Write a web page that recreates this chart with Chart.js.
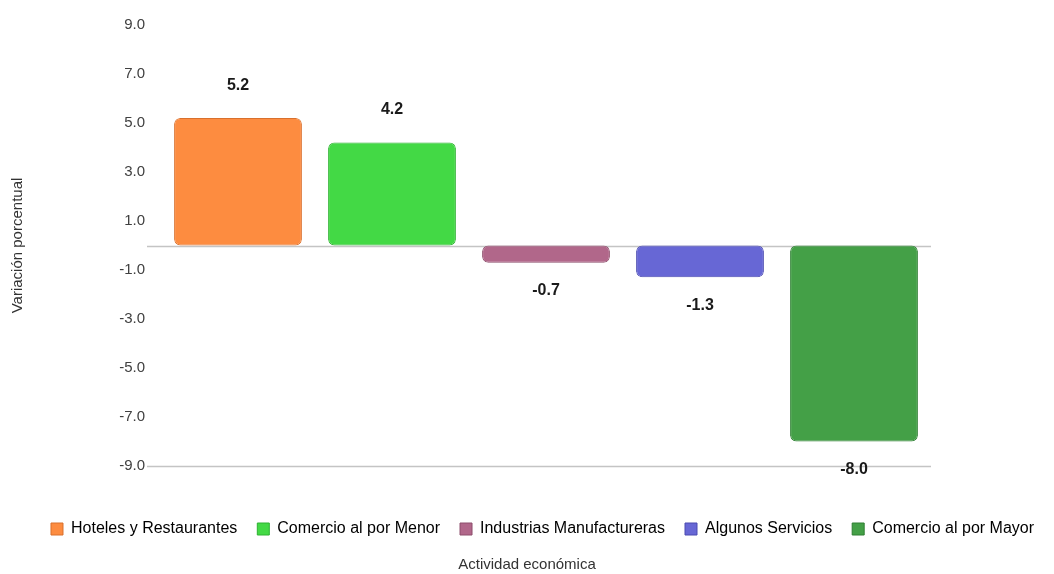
<!DOCTYPE html>
<html>
<head>
<meta charset="utf-8">
<script src="https://cdn.jsdelivr.net/npm/chart.js@4.4.0/dist/chart.umd.min.js"></script>
<style>
html,body{margin:0;padding:0;background:#fff;}
#wrap{width:1054px;height:574px;position:relative;}
</style>
</head>
<body>
<div id="wrap"><canvas id="chart"></canvas></div>
<script>
/* data */
var categories = ['Hoteles y Restaurantes','Comercio al por Menor','Industrias Manufactureras','Algunos Servicios','Comercio al por Mayor'];
var values = [5.2, 4.2, -0.7, -1.3, -8.0];
var barColors = ['#FD8C40','#43D945','#B1678A','#6767D5','#44A047'];
var edgeColors = ['#D9702C','#2FB232','#8E4E6C','#4B4BB0','#2F7F33'];
var yMin = -9, yMax = 9, yStep = 2;

var FONT = '"Liberation Sans", Arial, sans-serif';

/* zero line + bottom line */
var baseLines = {
  id:'baseLines',
  beforeDatasetsDraw:function(chart){
    var ctx = chart.ctx, a = chart.chartArea, y = chart.scales.y;
    ctx.save();
    ctx.strokeStyle = '#C4C4C4';
    ctx.lineWidth = 1.5;
    [0, yMin].forEach(function(v){
      var py = Math.round(y.getPixelForValue(v)) + 0.5;
      ctx.beginPath();
      ctx.moveTo(a.left - 14, py);
      ctx.lineTo(a.right, py);
      ctx.stroke();
    });
    ctx.restore();
  }
};

/* value labels */
var valueLabels = {
  id:'valueLabels',
  afterDatasetsDraw:function(chart){
    var ctx = chart.ctx;
    var meta = chart.getDatasetMeta(0);
    ctx.save();
    ctx.font = 'bold 16px ' + FONT;
    ctx.fillStyle = '#1a1a1a';
    ctx.textAlign = 'center';
    ctx.textBaseline = 'middle';
    meta.data.forEach(function(el, i){
      var v = values[i];
      var ty = v >= 0 ? el.y - 33 : el.y + 28;
      ctx.fillText(v.toFixed(1), el.x, ty);
    });
    ctx.restore();
  }
};

new Chart(document.getElementById('chart'), {
  type:'bar',
  data:{
    labels:categories,
    datasets:[{
      data:values,
      backgroundColor:barColors,
      borderColor:edgeColors,
      borderWidth:1,
      borderRadius:6,
      borderSkipped:false,
      barPercentage:0.83,
      categoryPercentage:1
    }]
  },
  options:{
    responsive:true,
    maintainAspectRatio:false,
    animation:false,
    layout:{padding:{top:25,right:0,left:0,bottom:0}},
    plugins:{
      tooltip:{enabled:false},
      legend:{
        position:'bottom',
        align:'end',
        onClick:function(){},
        labels:{
          font:{size:16,family:FONT},
          color:'#222',
          boxWidth:12,
          boxHeight:12,
          padding:20,
          generateLabels:function(chart){
            return categories.map(function(c,i){
              return {text:c, fillStyle:barColors[i], strokeStyle:edgeColors[i], lineWidth:1, hidden:false, index:i, datasetIndex:0};
            });
          }
        }
      },
      title:{
        display:true,
        position:'bottom',
        text:'Actividad económica',
        color:'#333',
        font:{size:15,weight:'normal',family:FONT},
        padding:{top:9,bottom:0}
      }
    },
    scales:{
      x:{
        display:true,
        grid:{display:false},
        border:{display:false},
        ticks:{display:false},
        afterFit:function(s){ s.height = 35; }
      },
      y:{
        min:yMin,
        max:yMax,
        grid:{display:false, drawTicks:false},
        border:{display:false},
        ticks:{
          stepSize:yStep,
          padding:16,
          color:'#404040',
          font:{size:15,family:FONT},
          callback:function(v){ return Number(v).toFixed(1); }
        },
        title:{
          display:true,
          text:'Variación porcentual',
          color:'#333',
          font:{size:15,family:FONT},
          padding:{top:9,bottom:0}
        },
        afterFit:function(s){ s.width = 161; }
      },
      yRight:{
        position:'right',
        display:true,
        min:yMin,
        max:yMax,
        grid:{display:false},
        border:{display:false},
        ticks:{display:false},
        afterFit:function(s){ s.width = 123; }
      }
    }
  },
  plugins:[baseLines, valueLabels]
});
</script>
</body>
</html>
